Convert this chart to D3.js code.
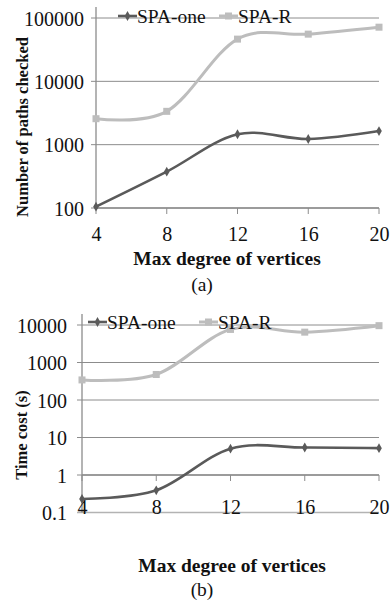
<!DOCTYPE html>
<html>
<head>
<meta charset="utf-8">
<script src="https://cdn.jsdelivr.net/npm/d3@7"></script>
<style>
    body { margin: 0; background: #fff; }
    svg { display: block; }
    text { font-family: "Liberation Serif", "Times New Roman", serif; fill: #111; }
    .title { font-weight: bold; }
</style>
</head>
<body>
<div id="chart"></div>
<script>
// 横轴：最大顶点度
let degrees = [4, 8, 12, 16, 20];
let seriesNames = ["SPA-one", "SPA-R"];

// (a) 检查的路径数
let pathsOne = [105, 375, 1460, 1230, 1640];
let pathsR = [2570, 3360, 46400, 55600, 71600];
let pathTicks = [100, 1000, 10000, 100000];

// (b) 时间开销 (s)
let timeOne = [0.23, 0.39, 5.05, 5.4, 5.2];
let timeR = [343, 479, 7620, 6450, 9600];
let timeTicks = [0.1, 1, 10, 100, 1000, 10000];

let W = 391, H = 605;
let darkColor = "#5a5a5a", lightColor = "#bdbdbd", gridColor = "#8c8c8c";

let svg = d3.select("#chart").append("svg")
    .attr("width", W)
    .attr("height", H);

// 画一个子图
function panel(opt) {
    let g = svg.append("g");
    let x = d3.scalePoint().domain(degrees).range([opt.left, opt.right]);
    let y = d3.scaleLog().domain(opt.yDomain).range([opt.bottom, opt.top]);

    // 横向网格线（左侧带一点刻度）
    g.selectAll(".grid").data(opt.ticks).enter().append("line")
        .attr("x1", opt.left - 5).attr("x2", opt.right)
        .attr("y1", d => y(d)).attr("y2", d => y(d))
        .attr("stroke", d => d === opt.yDomain[0] && opt.crossAt !== d ? "#b3b3b3" : gridColor)
        .attr("stroke-width", d => d === opt.yDomain[0] && opt.crossAt !== d ? 1.6 : 1);

    // 纵轴
    g.append("line")
        .attr("x1", opt.left).attr("x2", opt.left)
        .attr("y1", opt.top - 11).attr("y2", opt.bottom)
        .attr("stroke", gridColor).attr("stroke-width", 1.3);

    // 纵轴刻度标签
    let yAxis = d3.axisLeft(y).tickValues(opt.ticks).tickFormat(d => String(d)).tickSize(0).tickPadding(0);
    let ya = g.append("g").attr("transform", "translate(" + opt.labelX + ",0)").call(yAxis);
    ya.select(".domain").remove();
    ya.selectAll("text").attr("font-size", 20).attr("font-family", null).attr("dy", "0.35em");

    // 横轴（Excel 对数轴在 1 处相交）
    let cy = y(opt.crossAt);
    g.append("line")
        .attr("x1", opt.left).attr("x2", opt.right)
        .attr("y1", cy).attr("y2", cy)
        .attr("stroke", gridColor).attr("stroke-width", 1.3);
    g.selectAll(".xt").data(degrees).enter().append("line")
        .attr("x1", d => x(d)).attr("x2", d => x(d))
        .attr("y1", cy).attr("y2", cy + 6)
        .attr("stroke", gridColor);
    let xAxis = d3.axisBottom(x).tickSize(0).tickPadding(0);
    let xa = g.append("g").attr("transform", "translate(0," + opt.xLabelY + ")").call(xAxis);
    xa.select(".domain").remove();
    xa.selectAll("text").attr("font-size", 20).attr("font-family", null).attr("dy", "0");

    // 曲线（平滑线）
    let line = d3.line()
        .x((d, i) => x(degrees[i]))
        .y(d => y(d))
        .curve(d3.curveCardinal.tension(0));

    g.append("path").datum(opt.r)
        .attr("d", line).attr("fill", "none")
        .attr("stroke", lightColor).attr("stroke-width", 3);
    g.selectAll(".sq").data(opt.r).enter().append("rect")
        .attr("x", (d, i) => x(degrees[i]) - 3.5).attr("y", d => y(d) - 3.5)
        .attr("width", 7).attr("height", 7).attr("fill", lightColor);

    g.append("path").datum(opt.one)
        .attr("d", line).attr("fill", "none")
        .attr("stroke", darkColor).attr("stroke-width", 2.6);
    g.selectAll(".dm").data(opt.one).enter().append("path")
        .attr("d", d3.symbol().type(d3.symbolDiamond).size(28))
        .attr("transform", (d, i) => "translate(" + x(degrees[i]) + "," + y(d) + ")")
        .attr("fill", darkColor);

    // 图例
    let lg = g.append("g").attr("transform", "translate(0," + opt.legendY + ")");
    opt.legendX.forEach(function (lx, i) {
        let c = i === 0 ? darkColor : lightColor;
        lg.append("line").attr("x1", lx).attr("x2", lx + 19).attr("y1", 0).attr("y2", 0)
            .attr("stroke", c).attr("stroke-width", i === 0 ? 2.6 : 3);
        if (i === 0) {
            lg.append("path").attr("d", d3.symbol().type(d3.symbolDiamond).size(28))
                .attr("transform", "translate(" + (lx + 9.5) + ",0)").attr("fill", c);
        } else {
            lg.append("rect").attr("x", lx + 6).attr("y", -3.5).attr("width", 7).attr("height", 7).attr("fill", c);
        }
        lg.append("text").attr("x", lx + 19).attr("y", 0).attr("dy", "0.35em")
            .attr("font-size", 19.5).text(seriesNames[i]);
    });

    // 坐标轴标题
    g.append("text").attr("class", "title")
        .attr("transform", "translate(" + opt.yTitleX + "," + opt.yTitleY + ") rotate(-90)")
        .attr("text-anchor", "middle").attr("dy", "0.35em")
        .attr("font-size", 16.5).text(opt.yTitle);
    g.append("text").attr("class", "title")
        .attr("x", opt.xTitleX).attr("y", opt.xTitleY)
        .attr("text-anchor", "middle").attr("dy", "0.35em")
        .attr("font-size", 19.5).text("Max degree of vertices");
    g.append("text")
        .attr("x", 202).attr("y", opt.capY)
        .attr("text-anchor", "middle").attr("dy", "0.35em")
        .attr("font-size", 19.5).text(opt.cap);
}

panel({
    one: pathsOne, r: pathsR, ticks: pathTicks,
    yDomain: [100, 100000], crossAt: 100,
    left: 96, right: 379, top: 18, bottom: 208,
    labelX: 84, xLabelY: 241,
    legendX: [118, 219], legendY: 16,
    yTitle: "Number of paths checked", yTitleX: 22, yTitleY: 127,
    xTitleX: 227, xTitleY: 258,
    cap: "(a)", capY: 284
});

panel({
    one: timeOne, r: timeR, ticks: timeTicks,
    yDomain: [0.1, 10000], crossAt: 1,
    left: 82, right: 379, top: 325, bottom: 512.5,
    labelX: 67, xLabelY: 514,
    legendX: [88, 199], legendY: 322,
    yTitle: "Time cost (s)", yTitleX: 21, yTitleY: 435,
    xTitleX: 232, xTitleY: 565,
    cap: "(b)", capY: 589
});
</script>
</body>
</html>
